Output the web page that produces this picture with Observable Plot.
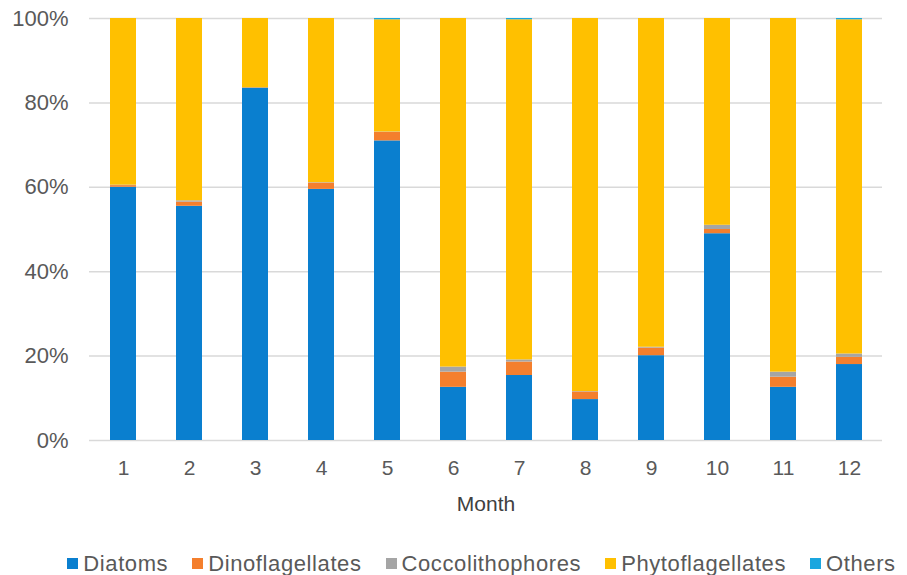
<!DOCTYPE html>
<html>
<head>
<meta charset="utf-8">
<script src="https://cdn.jsdelivr.net/npm/d3@7"></script>
<script src="https://cdn.jsdelivr.net/npm/@observablehq/plot@0.6"></script>
<style>
  body { margin: 0; background: #fff; font-family: "Liberation Sans", Arial, sans-serif; }
  #chart svg { display: block; }
  #legend { display: flex; justify-content: center; gap: 24px; font-size: 22px; letter-spacing: 0.6px; color: #595959; margin-top: 36px; padding-left: 56px; line-height: 25px; }
  #legend .item { display: flex; align-items: center; }
  #legend span.sw { display: inline-block; width: 11px; height: 11px; margin-right: 5px; }
</style>
</head>
<body>
<div id="chart"></div>
<div id="legend"></div>
<script>
const months = [1,2,3,4,5,6,7,8,9,10,11,12];
const series = ["Diatoms","Dinoflagellates","Coccolithophores","Phytoflagellates","Others"];
const colors = ["#0a7fcf","#f47f2d","#a5a5a5","#ffc000","#1aa6df"];
const diatoms          = [60.0, 55.5, 83.5, 59.5, 71.0, 12.6, 15.4,  9.7, 20.1, 49.0, 12.6, 18.0];
const dinoflagellates  = [ 0.4,  1.0,  0.1,  1.5,  2.0,  3.6,  3.2,  1.8,  1.8,  1.0,  2.4,  1.7];
const coccolithophores = [ 0.1,  0.3,  0.0,  0.1,  0.1,  1.2,  0.5,  0.1,  0.2,  1.0,  1.2,  0.8];
const others           = [ 0.0,  0.0,  0.0,  0.0,  0.3,  0.0,  0.3,  0.0,  0.0,  0.0,  0.0,  0.3];
const phytoflagellates = months.map((m, i) => 100 - diatoms[i] - dinoflagellates[i] - coccolithophores[i] - others[i]);
const valuesBySeries = [diatoms, dinoflagellates, coccolithophores, phytoflagellates, others];
const yTicks = [0, 20, 40, 60, 80, 100];

const data = [];
series.forEach((s, si) => months.forEach((m, i) => data.push({month: m, series: s, value: valuesBySeries[si][i]})));

const chart = Plot.plot({
  width: 907,
  height: 515,
  marginTop: 18,
  marginBottom: 75,
  marginLeft: 89,
  marginRight: 25,
  style: {fontFamily: "'Liberation Sans', Arial, sans-serif", fontSize: "21px", color: "#595959", background: "#fff"},
  x: {domain: months, paddingInner: 0.61, paddingOuter: 0.305, label: null},
  y: {domain: [0, 100], ticks: yTicks, label: null},
  color: {domain: series, range: colors},
  marks: [
    Plot.ruleY(yTicks, {stroke: "#d9d9d9", strokeWidth: 1.5}),
    Plot.barY(data, {x: "month", y: "value", fill: "series", order: series}),
    Plot.axisY({ticks: yTicks, tickSize: 0, tickPadding: 21, tickFormat: d => d + "%", fontSize: 22, label: null}),
    Plot.axisX({tickSize: 0, tickPadding: 20, fontSize: 21, label: null}),
    Plot.text(["Month"], {frameAnchor: "bottom", dy: 70, fontSize: 21, fill: "#404040"})
  ]
});
document.getElementById("chart").appendChild(chart);

const legend = document.getElementById("legend");
series.forEach((s, i) => {
  const item = document.createElement("span");
  item.className = "item";
  item.innerHTML = `<span class="sw" style="background:${colors[i]}"></span>${s}`;
  legend.appendChild(item);
});
</script>
</body>
</html>
